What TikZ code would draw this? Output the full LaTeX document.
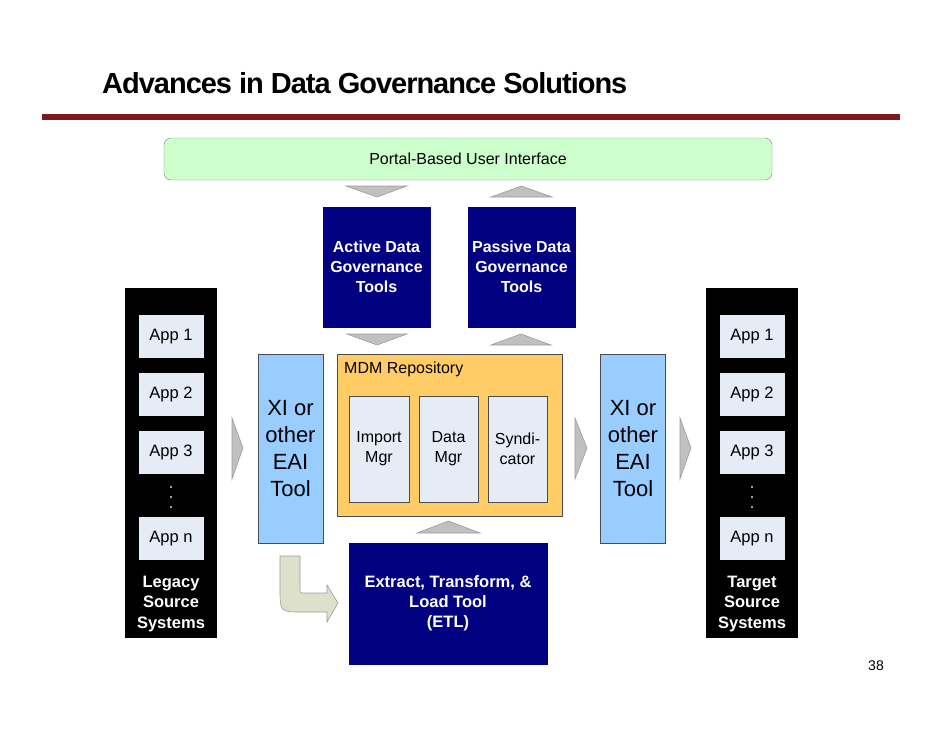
\documentclass[tikz,border=0pt]{standalone}
\usepackage{fontspec}
\setmainfont{Liberation Sans}
\newfontfamily\titlefont[LetterSpace=-3.5]{Liberation Sans}
\definecolor{navy}{HTML}{000080}
\definecolor{xiblue}{HTML}{99CCFF}
\definecolor{mdmorange}{HTML}{FFCC66}
\definecolor{paleblue}{HTML}{E6ECF5}
\definecolor{portalgreen}{HTML}{CCFFCC}
\definecolor{rulered}{HTML}{7F1A1A}
\definecolor{arrowgrey}{HTML}{C0C0C0}
\definecolor{arrowedge}{HTML}{9C9C9C}
\definecolor{curvefill}{HTML}{DDE1CC}
\tikzset{
  navybox/.style={rectangle, draw=navy, fill=navy, text=white, inner sep=0pt, align=center,
    font=\fontsize{16}{20}\selectfont\bfseries},
  blackbox/.style={rectangle, fill=black, inner sep=0pt},
  appbox/.style={rectangle, fill=paleblue, inner sep=0pt, minimum width=65pt, minimum height=43pt,
    font=\fontsize{16.5}{20}\selectfont},
  syslabel/.style={text=white, align=center, inner sep=0pt, font=\fontsize{16.5}{20.5}\selectfont\bfseries},
  xibox/.style={rectangle, draw=black!70, fill=xiblue, inner sep=0pt, align=center,
    minimum width=65pt, minimum height=189pt, font=\fontsize{22}{27}\selectfont},
  innerbox/.style={rectangle, draw=black!70, fill=paleblue, inner sep=0pt, align=center,
    minimum width=60pt, minimum height=106pt, font=\fontsize{16}{20}\selectfont},
  blockarrow/.style={fill=arrowgrey, draw=arrowedge, line width=0.6pt, line join=miter},
}
\begin{document}
\begin{tikzpicture}[x=1pt,y=-1pt]
\useasboundingbox (0,0) rectangle (942,728);
\fill[white] (0,0) rectangle (942,728);

% title and rule
\node[anchor=base west, inner sep=0pt, font=\titlefont\fontsize{29}{32}\selectfont\bfseries] (title) at (102,93) {Advances in Data Governance Solutions};
\fill[rulered] (42,114) rectangle (900,120);

% portal
\node[rectangle, rounded corners=7pt, draw=black!50, fill=portalgreen, minimum width=608pt, minimum height=42pt,
  inner sep=0pt, font=\fontsize{16}{20}\selectfont] (portal) at (468,159) {Portal-Based User Interface};

% governance tools
\node[navybox, minimum width=107pt, minimum height=120pt] (active) at (376.5,267) {Active Data\\Governance\\Tools};
\node[navybox, minimum width=107pt, minimum height=120pt] (passive) at (521.5,267) {Passive Data\\Governance\\Tools};

% legacy systems
\node[blackbox, minimum width=92pt, minimum height=350pt] (legacy) at (171,463) {};
\node[appbox] (la1) at (171,336.5) {App 1};
\node[appbox] (la2) at (171,394.5) {App 2};
\node[appbox] (la3) at (171,452.5) {App 3};
\node[appbox] (lan) at (171,538.5) {App n};
\foreach \yy in {487,497,507} \fill[white!85!black] (171,\yy) circle (1.1pt);
\node[syslabel] (leglbl) at (171,604) {Legacy\\Source\\Systems};

% target systems
\node[blackbox, minimum width=92pt, minimum height=350pt] (target) at (752,463) {};
\node[appbox] (ta1) at (752,336.5) {App 1};
\node[appbox] (ta2) at (752,394.5) {App 2};
\node[appbox] (ta3) at (752,452.5) {App 3};
\node[appbox] (tan) at (752,538.5) {App n};
\foreach \yy in {487,497,507} \fill[white!85!black] (752,\yy) circle (1.1pt);
\node[syslabel] (tgtlbl) at (752,604) {Target\\Source\\Systems};

% XI / EAI tools
\node[xibox] (xil) at (290.5,448.5) {XI or\\other\\EAI\\Tool};
\node[xibox] (xir) at (633,448.5) {XI or\\other\\EAI\\Tool};

% MDM repository
\node[rectangle, draw=black!70, fill=mdmorange, minimum width=225pt, minimum height=162pt, inner sep=0pt] (mdm) at (449.5,435) {};
\node[anchor=base west, inner sep=0pt, font=\fontsize{16}{20}\selectfont] (mdmlbl) at (344,373) {MDM Repository};
\node[innerbox] (imp) at (379,449) {Import\\Mgr};
\node[innerbox, minimum width=59pt] (dmgr) at (448.5,449) {Data\\Mgr};
\node[innerbox, minimum width=59pt] (synd) at (517.5,449) {Syndi-\\cator};

% ETL
\node[navybox, minimum width=198pt, minimum height=121pt] (etl) at (448,603.5) {};
\node[text=white, align=center, inner sep=0pt, font=\fontsize{16.5}{20}\selectfont\bfseries] (etllbl) at (448,603) {Extract, Transform, \&\\Load Tool\\(ETL)};

% grey block arrows
\draw[blockarrow] (346,186) -- (407,186) -- (377,197) -- cycle;
\draw[blockarrow] (491,197) -- (552,197) -- (521.5,186) -- cycle;
\draw[blockarrow] (347,334) -- (407,334) -- (377,345) -- cycle;
\draw[blockarrow] (491,345) -- (551,345) -- (521,334) -- cycle;
\draw[blockarrow] (417,533) -- (480,533) -- (448.5,521) -- cycle;
\draw[blockarrow] (232,418) -- (243,448) -- (232,479) -- cycle;
\draw[blockarrow] (575,418) -- (587,448) -- (575,479) -- cycle;
\draw[blockarrow] (680,418) -- (691,448) -- (680,479) -- cycle;

% curved arrow from EAI to ETL
\draw[fill=curvefill, draw=arrowedge, line width=0.6pt, line join=miter]
  (280,556) -- (280,588) .. controls (280,612) .. (302,612) -- (327,612) -- (327,622)
  -- (338,603) -- (327,585) -- (327,593) -- (304,593) .. controls (300,593) .. (300,589) -- (300,556) -- cycle;

% page number
\node[inner sep=0pt, font=\fontsize{14}{16}\selectfont] (pnum) at (876,666) {38};
\end{tikzpicture}
\end{document}
